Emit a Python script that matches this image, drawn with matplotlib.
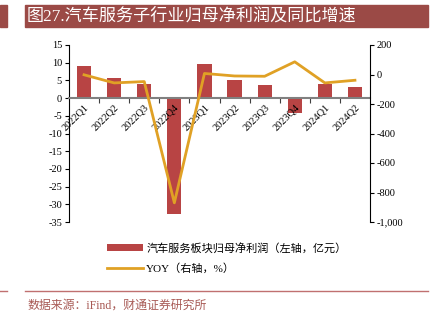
import matplotlib
matplotlib.use("Agg")
import matplotlib.pyplot as plt
from matplotlib.patches import Patch, Rectangle
from matplotlib.lines import Line2D
from matplotlib.ticker import FuncFormatter

plt.rcParams['font.family'] = ['Liberation Serif', 'Noto Sans CJK SC']
plt.rcParams['axes.unicode_minus'] = False

quarters = ['2022Q1', '2022Q2', '2022Q3', '2022Q4', '2023Q1',
            '2023Q2', '2023Q3', '2023Q4', '2024Q1', '2024Q2']
profit = [9.0, 5.6, 4.0, -32.8, 9.6, 5.1, 3.6, -4.3, 4.0, 3.1]
yoy = [-2, -57, -48, -870, 7, -10, -12, 86, -57, -39]

title = '图27.汽车服务子行业归母净利润及同比增速'
source = '数据来源：iFind，财通证券研究所'
bar_label = '汽车服务板块归母净利润（左轴，亿元）'
line_label = 'YOY（右轴，%）'

bar_color = '#B84444'
line_color = '#E0A125'
band_color = '#9B4A46'

fig = plt.figure(figsize=(4.38, 3.24), dpi=100)
ax = fig.add_axes([69 / 438, 1 - 222 / 324, 301 / 438, 177 / 324])
x = list(range(len(quarters)))

ax.bar(x, profit, width=0.47, color=bar_color, zorder=2)
ax.set_axisbelow(False)  # quarter labels stay readable over the bars
ax.set_xlim(-0.5, len(quarters) - 0.5)
ax.set_ylim(-35, 15)
ax.set_yticks(range(-35, 16, 5))
ax.tick_params(axis='y', labelsize=7.5, length=3, width=0.8, pad=2)

ax.spines['top'].set_visible(False)
ax.spines['right'].set_visible(False)
ax.spines['left'].set_linewidth(0.8)
ax.spines['bottom'].set_position(('data', 0))
ax.spines['bottom'].set_color('#808080')
ax.spines['bottom'].set_linewidth(1.5)
ax.spines['bottom'].set_zorder(3)

ax.set_xticks(x)
ax.set_xticklabels(quarters, rotation=45, ha='right', rotation_mode='anchor')
ax.set_xticks([i + 0.5 for i in x[:-1]], minor=True)
ax.tick_params(axis='x', which='major', length=0, labelsize=7.5, pad=3)
ax.tick_params(axis='x', which='minor', length=3.5, width=0.8, color='#404040')

ax2 = ax.twinx()
ax2.plot(x, yoy, color=line_color, linewidth=2, zorder=4)
ax2.set_ylim(-1000, 200)
ax2.set_yticks(range(-1000, 201, 200))
ax2.yaxis.set_major_formatter(FuncFormatter(lambda v, p: f'{int(v):,}'))
ax2.tick_params(axis='y', labelsize=7.5, length=3, width=0.8, pad=2)
for side in ['top', 'left', 'bottom']:
    ax2.spines[side].set_visible(False)
ax2.spines['right'].set_linewidth(0.8)

# header band and footer rule
fig.patches.append(Rectangle((25 / 438, 1 - 27 / 324), 403 / 438, 22 / 324,
                             transform=fig.transFigure, color=band_color, zorder=0))
fig.patches.append(Rectangle((0, 1 - 27 / 324), 7 / 438, 22 / 324,
                             transform=fig.transFigure, color=band_color, zorder=0))
fig.text(27 / 438, 1 - 16 / 324, title, color='white', fontsize=12.3,
         va='center', ha='left')
fig.add_artist(Line2D([25 / 438, 428 / 438], [1 - 291 / 324] * 2,
                      color='#C07070', linewidth=1))
fig.add_artist(Line2D([0, 7 / 438], [1 - 291 / 324] * 2,
                      color='#C07070', linewidth=1))
fig.text(27 / 438, 1 - 306 / 324, source, color='#A85A55', fontsize=8.6,
         va='center', ha='left')

handles = [Patch(facecolor=bar_color, edgecolor='none'),
           Line2D([0], [0], color=line_color, linewidth=2)]
fig.legend(handles, [bar_label, line_label], loc='upper left',
           bbox_to_anchor=(103 / 438, 1 - 238 / 324), frameon=False,
           fontsize=8, handlelength=3.2, handleheight=0.6,
           labelspacing=0.9, handletextpad=0.3, borderaxespad=0)

fig.savefig('out.png', dpi=100)
